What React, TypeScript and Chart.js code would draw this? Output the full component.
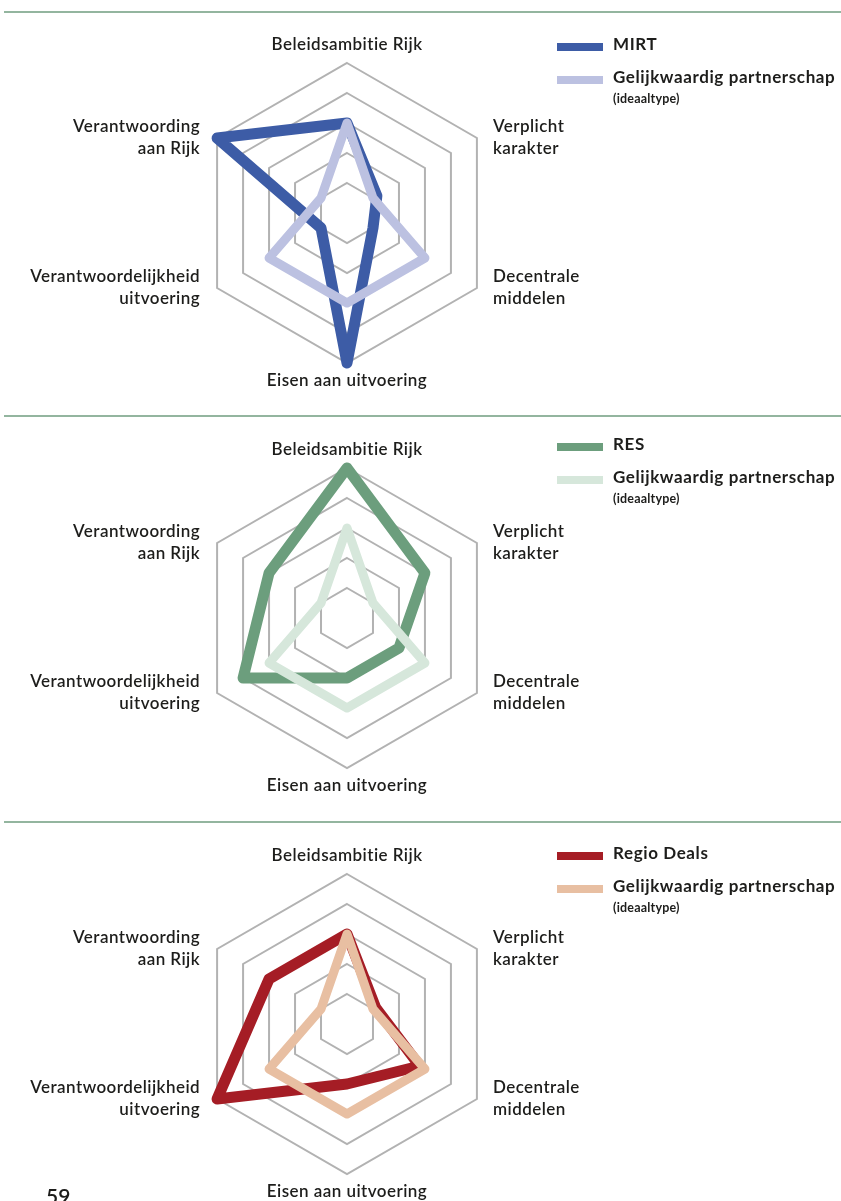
import React, { useEffect, useRef } from "react";
import { Chart, registerables } from "chart.js";

Chart.register(...registerables);

// ---- data ----
const axisLabels: string[][] = [
  ["Beleidsambitie Rijk"],
  ["Verplicht", "karakter"],
  ["Decentrale", "middelen"],
  ["Eisen aan uitvoering"],
  ["Verantwoordelijkheid", "uitvoering"],
  ["Verantwoording", "aan Rijk"],
];

const idealName = "Gelijkwaardig partnerschap";
const idealNote = "(ideaaltype)";
const idealValues = [3, 1, 3, 3, 3, 1];

const mirtName = "MIRT";
const mirtValues = [3, 1.15, 1, 5, 1, 5];

const resName = "RES";
const resValues = [5, 3, 2, 2, 4, 3];

const regioName = "Regio Deals";
const regioValues = [3, 1.1, 2.8, 2, 5, 3];

const scaleMin = 0;
const scaleMax = 5;
const scaleStep = 1;

// ---- styling / layout ----
const FONT = "Lato, 'Noto Sans', sans-serif";
const TEXT = "#1d1d1b";

type Panel = {
  name: string;
  values: number[];
  dark: string;
  light: string;
  sepY: number;
  centerY: number;
  legendY: number;
};

const panels: Panel[] = [
  { name: mirtName, values: mirtValues, dark: "#3d5ca6", light: "#bcc1e1", sepY: 12, centerY: 213, legendY: 43 },
  { name: resName, values: resValues, dark: "#6c9e7d", light: "#d6e7db", sepY: 416, centerY: 618, legendY: 443 },
  { name: regioName, values: regioValues, dark: "#a51d25", light: "#e8bfa2", sepY: 822, centerY: 1024, legendY: 852 },
];

const CX = 347;
const R = 150;
const CANVAS_W = 841;
const CANVAS_H = 400;
const CANVAS_CY = 205;

const labelPlugin = {
  id: "axisLabelsPlugin",
  afterDraw(chart: any) {
    const scale = chart.scales.r;
    const ctx = chart.ctx;
    const labels: string[][] = chart.data.labels;
    const lh = 22;
    ctx.save();
    ctx.fillStyle = TEXT;
    ctx.font = `600 17px ${FONT}`;
    try {
      (ctx as any).letterSpacing = "0.45px";
    } catch (e) {}
    ctx.textBaseline = "middle";
    labels.forEach((lines, i) => {
      const p = scale.getPointPosition(i, scale.drawingArea);
      const n = lines.length;
      let x = p.x;
      let y0: number;
      const dx = p.x - scale.xCenter;
      const dy = p.y - scale.yCenter;
      if (Math.abs(dx) < 1) {
        ctx.textAlign = "center";
        y0 = dy < 0 ? p.y - 18 - (n - 1) * lh : p.y + 18;
      } else {
        ctx.textAlign = dx > 0 ? "left" : "right";
        x = dx > 0 ? p.x + 16 : p.x - 17;
        y0 = p.y - 0.5 - ((n - 1) * lh) / 2;
      }
      lines.forEach((t, k) => ctx.fillText(t, x, y0 + k * lh));
    });
    ctx.restore();
  },
};

function RadarPanel({ panel }: { panel: Panel }) {
  const ref = useRef<HTMLCanvasElement | null>(null);
  useEffect(() => {
    if (!ref.current) return;
    const chart = new Chart(ref.current, {
      type: "radar",
      data: {
        labels: axisLabels as any,
        datasets: [
          {
            label: panel.name,
            data: panel.values,
            borderColor: panel.dark,
            borderWidth: 11,
            fill: false,
            pointRadius: 0,
            borderJoinStyle: "round",
            borderCapStyle: "round",
            order: 1,
          },
          {
            label: idealName,
            data: idealValues,
            borderColor: panel.light,
            borderWidth: 9,
            fill: false,
            pointRadius: 0,
            borderJoinStyle: "round",
            borderCapStyle: "round",
            order: 0,
          },
        ],
      },
      options: {
        responsive: false,
        maintainAspectRatio: false,
        animation: false,
        layout: {
          padding: {
            left: CX - R,
            right: CANVAS_W - CX - R,
            top: CANVAS_CY - R,
            bottom: CANVAS_H - CANVAS_CY - R,
          },
        },
        plugins: { legend: { display: false }, tooltip: { enabled: false } },
        scales: {
          r: {
            min: scaleMin,
            max: scaleMax,
            ticks: { display: false, stepSize: scaleStep },
            pointLabels: { display: false },
            angleLines: { display: false },
            grid: { color: "#b2b2b2", lineWidth: 2 },
          },
        },
      },
      plugins: [labelPlugin],
    });
    return () => chart.destroy();
  }, [panel]);

  const legendText: React.CSSProperties = {
    position: "absolute",
    left: 56,
    whiteSpace: "nowrap",
    fontWeight: 700,
    fontSize: 17,
    letterSpacing: "0.6px",
    lineHeight: "22px",
  };

  return (
    <>
      <div
        style={{
          position: "absolute",
          left: 4,
          top: panel.sepY - 1,
          width: 837,
          height: 2,
          background: "#93b59f",
        }}
      />
      <canvas
        ref={ref}
        width={CANVAS_W}
        height={CANVAS_H}
        style={{
          position: "absolute",
          left: 0,
          top: panel.centerY - CANVAS_CY,
          width: CANVAS_W,
          height: CANVAS_H,
        }}
      />
      <div style={{ position: "absolute", left: 557, top: panel.legendY, fontFamily: FONT, color: TEXT }}>
        <div style={{ position: "absolute", left: 0, top: 0, width: 46, height: 8, background: panel.dark }} />
        <div style={{ ...legendText, top: -10 }}>{panel.name}</div>
        <div style={{ position: "absolute", left: 0, top: 33, width: 46, height: 8, background: panel.light }} />
        <div style={{ ...legendText, top: 23 }}>{idealName}</div>
        <div
          style={{
            position: "absolute",
            left: 56,
            top: 48,
            whiteSpace: "nowrap",
            fontWeight: 700,
            fontSize: 12.5,
            letterSpacing: "0.2px",
            lineHeight: "16px",
          }}
        >
          {idealNote}
        </div>
      </div>
    </>
  );
}

export default function App() {
  useEffect(() => {
    document.body.style.overflow = "hidden";
  }, []);
  return (
    <div
      style={{
        position: "absolute",
        left: 0,
        top: 0,
        width: 841,
        height: 1201,
        overflow: "hidden",
        background: "#ffffff",
      }}
    >
      {panels.map((p) => (
        <RadarPanel key={p.name} panel={p} />
      ))}
      <div
        style={{
          position: "absolute",
          left: 46,
          top: 1182,
          fontFamily: FONT,
          fontWeight: 600,
          fontSize: 21,
          color: TEXT,
          lineHeight: "28px",
        }}
      >
        59
      </div>
    </div>
  );
}
